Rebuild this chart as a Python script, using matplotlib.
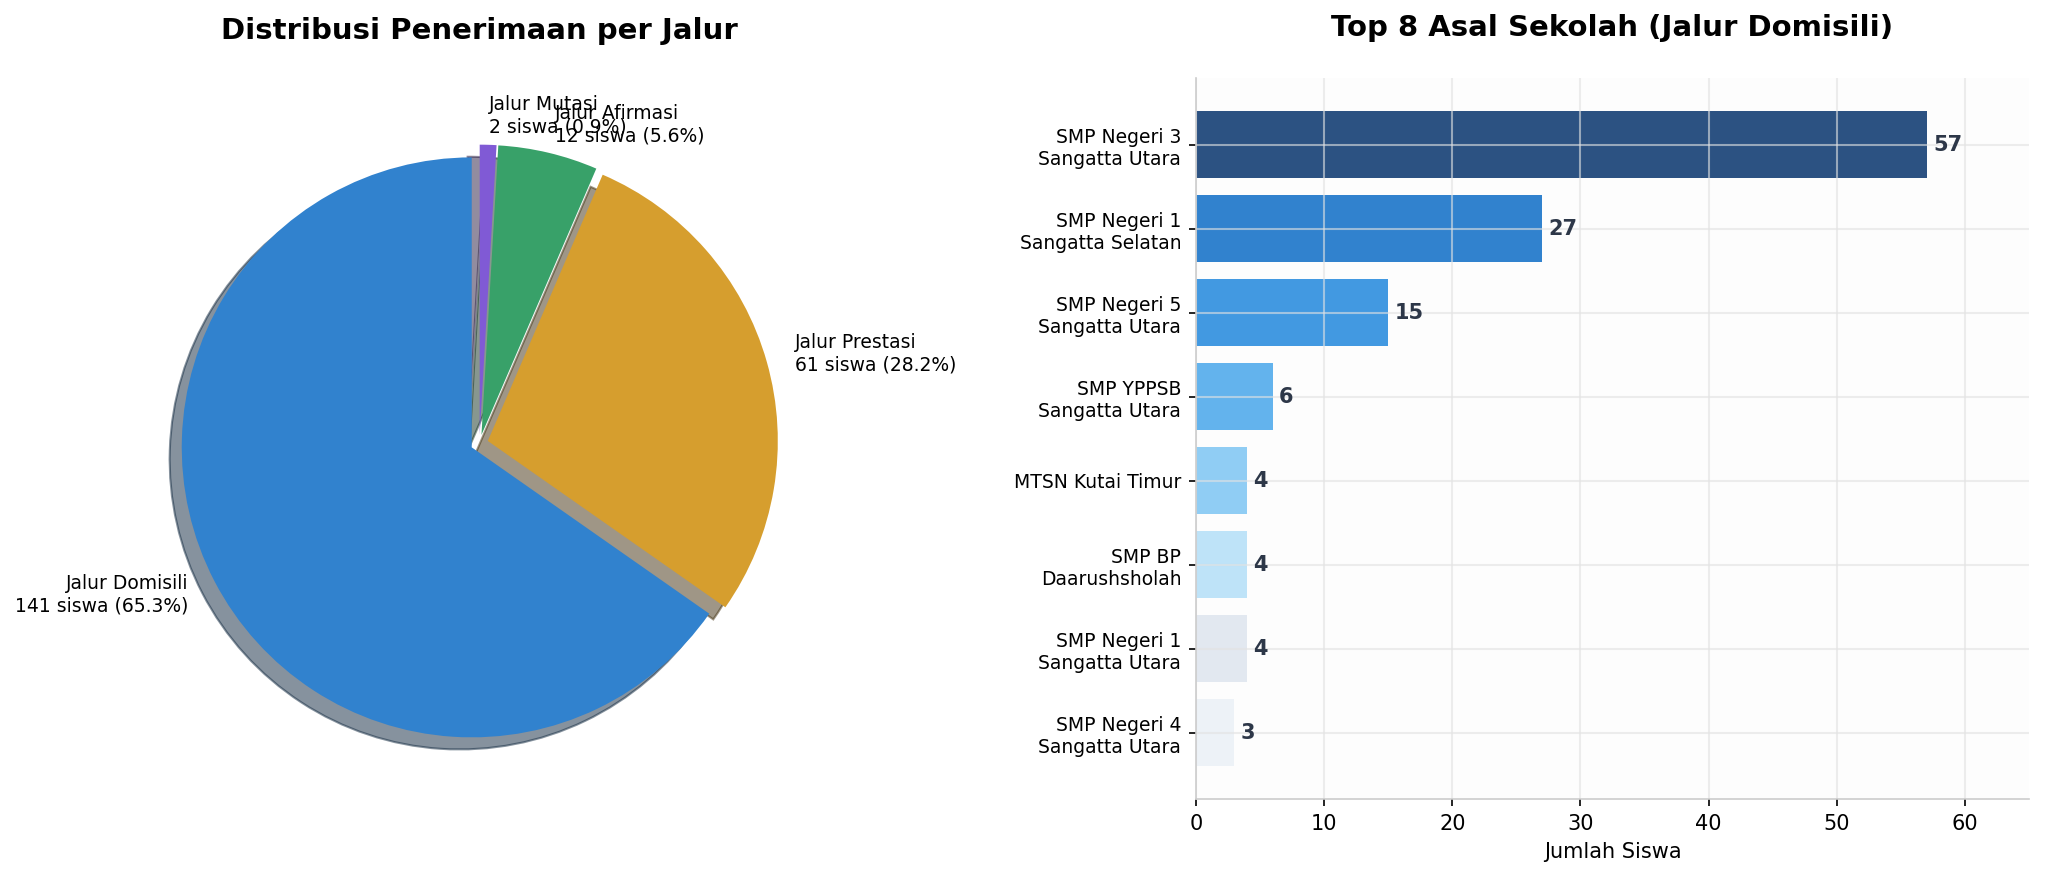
import matplotlib
matplotlib.use("Agg")
import matplotlib.pyplot as plt

# data jalur penerimaan
jalur = ['Jalur Domisili', 'Jalur Prestasi', 'Jalur Afirmasi', 'Jalur Mutasi']
jumlah_jalur = [141, 61, 12, 2]
warna_jalur = ['#3182ce', '#d69e2e', '#38a169', '#805ad5']

# data asal sekolah (jalur domisili)
sekolah = ['SMP Negeri 3\nSangatta Utara', 'SMP Negeri 1\nSangatta Selatan',
           'SMP Negeri 5\nSangatta Utara', 'SMP YPPSB\nSangatta Utara',
           'MTSN Kutai Timur', 'SMP BP\nDaarushsholah',
           'SMP Negeri 1\nSangatta Utara', 'SMP Negeri 4\nSangatta Utara']
jumlah_sekolah = [57, 27, 15, 6, 4, 4, 4, 3]
warna_sekolah = ['#2c5282', '#3182ce', '#4299e1', '#63b3ed',
                 '#90cdf4', '#bee3f8', '#e2e8f0', '#edf2f7']

fig = plt.figure(figsize=(2045 / 150, 878 / 150), dpi=150)

# PIE
ax1 = fig.add_axes([0.0572, 0.0822, 0.3545, 0.8257])
total = sum(jumlah_jalur)
label_pie = [f'{j}\n{n} siswa ({n / total * 100:.1f}%)' for j, n in zip(jalur, jumlah_jalur)]
ax1.pie(jumlah_jalur, labels=label_pie, colors=warna_jalur, startangle=90,
        explode=[0.03] * len(jumlah_jalur), shadow=True,
        textprops={'fontsize': 9})
ax1.set_title('Distribusi Penerimaan per Jalur', fontsize=14, fontweight='bold', pad=20)

# BAR
ax2 = fig.add_axes([0.5848, 0.09, 0.4074, 0.821])
ax2.set_facecolor('#fdfdfd')
pos = list(range(len(sekolah)))
ax2.barh(pos, jumlah_sekolah, color=warna_sekolah, height=0.8)
ax2.set_yticks(pos)
ax2.set_yticklabels(sekolah, fontsize=9)
ax2.invert_yaxis()
for p, v in zip(pos, jumlah_sekolah):
    ax2.text(v + 0.5, p, str(v), va='center', ha='left', fontsize=10,
             fontweight='bold', color='#2d3748')
ax2.set_xlim(0, 65)
ax2.set_xlabel('Jumlah Siswa', fontsize=10)
ax2.tick_params(axis='x', labelsize=10)
ax2.grid(True, color='#e2e2e2', alpha=0.6, linewidth=1)
ax2.spines['top'].set_visible(False)
ax2.spines['right'].set_visible(False)
ax2.spines['left'].set_color('#cccccc')
ax2.spines['bottom'].set_color('#cccccc')
ax2.set_title('Top 8 Asal Sekolah (Jalur Domisili)', fontsize=14, fontweight='bold', pad=20)

fig.savefig('out.png', dpi=150)
